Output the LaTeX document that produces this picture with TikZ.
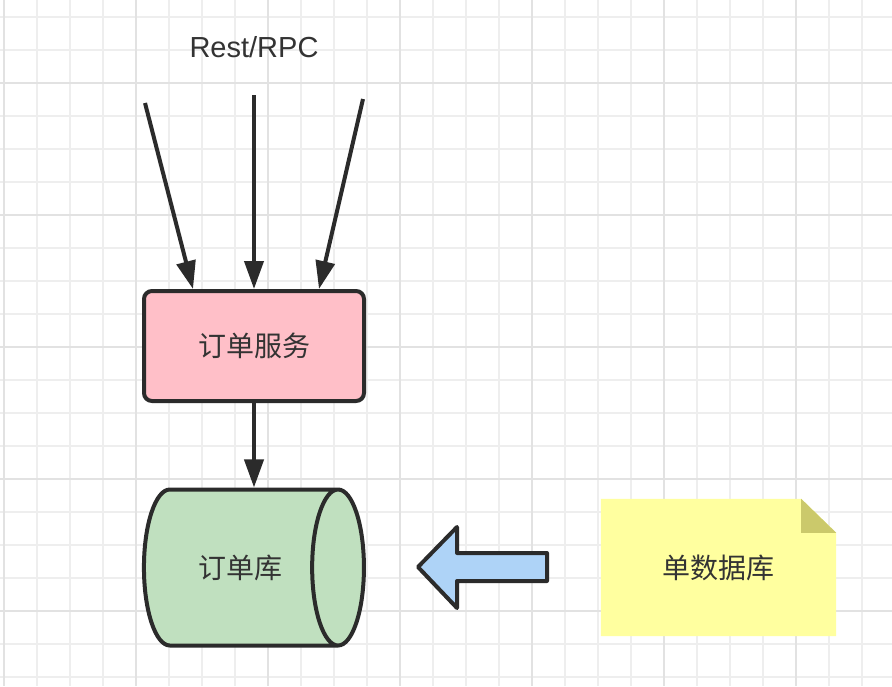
\documentclass[tikz,border=0pt]{standalone}
\usepackage{fontspec}
\setmainfont{Liberation Sans}
\newfontfamily\cjkfont{Noto Sans CJK SC}
\usetikzlibrary{arrows.meta,positioning,calc,shapes.geometric,backgrounds}

\definecolor{inkdark}{HTML}{2B2B2B}
\definecolor{textdark}{HTML}{333333}
\definecolor{gridminor}{HTML}{EEEEEE}
\definecolor{gridmajor}{HTML}{E2E2E2}
\definecolor{svcpink}{HTML}{FFBFC8}
\definecolor{dbgreen}{HTML}{C0E0BF}
\definecolor{feedblue}{HTML}{AED3F7}
\definecolor{memoyellow}{HTML}{FFFF9F}
\definecolor{memofold}{HTML}{CBC96B}

\begin{document}
\begin{tikzpicture}[
  x=1pt, y=-1pt,
  >={Triangle[length=28pt,width=19pt]},
  gridline/.style={draw=gridminor, line width=1.5pt},
  gridbold/.style={draw=gridmajor, line width=2pt},
  service/.style={
    rectangle, rounded corners=8pt, draw=inkdark, line width=4pt,
    fill=svcpink, minimum width=220pt, minimum height=110pt,
    font=\cjkfont\fontsize{28}{33}\selectfont, text=textdark
  },
  store/.style={
    cylinder, aspect=2, draw=inkdark, line width=4pt, fill=dbgreen,
    minimum width=156pt, minimum height=220pt, inner sep=0pt,
    font=\cjkfont\fontsize{28}{33}\selectfont, text=textdark
  },
  memo/.style={
    rectangle, minimum width=235pt, minimum height=137pt,
    font=\cjkfont\fontsize{28}{33}\selectfont, text=textdark
  },
  flow/.style={->, draw=inkdark, line width=4pt},
  feed/.style={draw=inkdark, line width=4pt, fill=feedblue, line join=round}
]
\useasboundingbox (0,0) rectangle (892,686);

% ---- paper grid ----
\begin{scope}[on background layer]
  \fill[white] (0,0) rectangle (892,686);
  \foreach \gx in {0,...,26} \draw[gridline] ({4+33*\gx},0) -- ({4+33*\gx},686);
  \foreach \gy in {0,...,20} \draw[gridline] (0,{17+33*\gy}) -- (892,{17+33*\gy});
  \foreach \gx in {4,136,268,400,532,664,796} \draw[gridbold] (\gx,0) -- (\gx,686);
  \foreach \gy in {83,215,347,479,611} \draw[gridbold] (0,\gy) -- (892,\gy);
\end{scope}

% ---- service, store, single db note ----
\node[font=\fontsize{29}{34}\selectfont, text=textdark] (rpc) at (254,47) {Rest/RPC};
\node[service] (svc) at (254,346) {订单服务};
\node[store] (db) at (240,567.5) {订单库};
\node[memo] (memo) at (718.5,567.5) {单数据库};

% ---- incoming calls ----
\coordinate (inL) at (145,103);
\coordinate (inM) at (254,95);
\coordinate (inR) at (363,99);
\draw[flow] (inL) -- ($(svc.north)+(-61,0)$);
\draw[flow] (inM) -- (svc.north);
\draw[flow] (inR) -- ($(svc.north)+(65,0)$);
\draw[flow] (svc) -- (svc |- db.north);

% ---- migration arrow ----
\draw[feed] (547,553) -- (457,553) -- (457,527) -- (418,567) -- (457,608)
  -- (457,581) -- (547,581) -- cycle;

% ---- note with folded corner ----
\begin{scope}[on background layer]
  \fill[memoyellow] (memo.north west) -- ($(memo.north east)+(-35,0)$)
    -- ($(memo.north east)+(0,34)$) -- (memo.south east) -- (memo.south west) -- cycle;
  \fill[memofold] ($(memo.north east)+(-35,0)$) -- ($(memo.north east)+(0,34)$)
    -- ($(memo.north east)+(-35,34)$) -- cycle;
\end{scope}
\end{tikzpicture}
\end{document}
